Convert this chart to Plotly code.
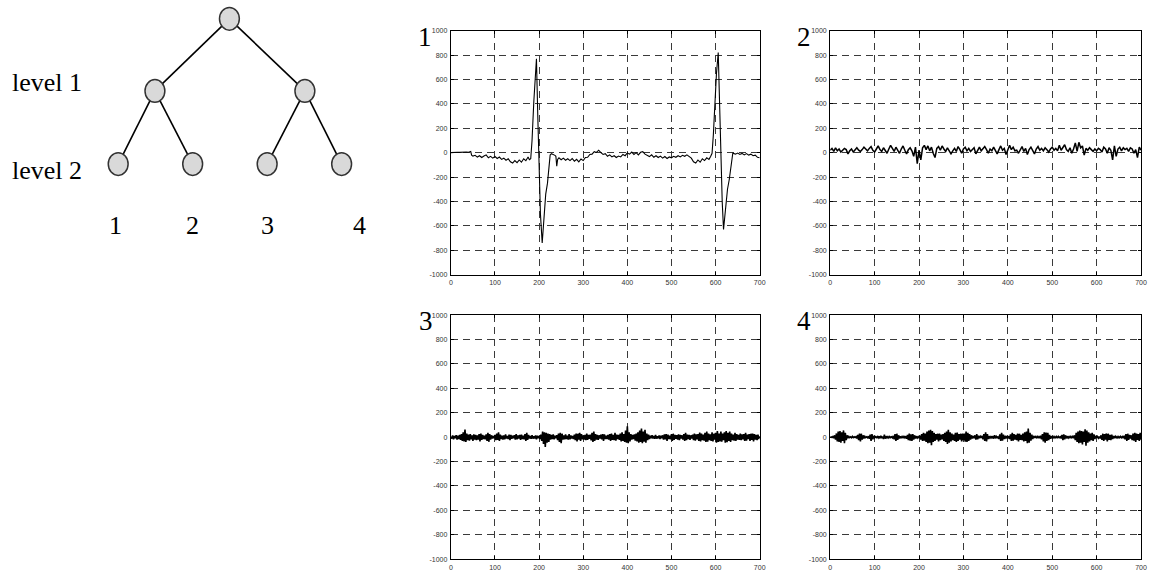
import plotly.graph_objects as go

# ---------------- data ----------------
sig1_x = [0, 5, 10, 15, 20, 25, 30, 35, 40, 45, 47, 50, 55, 60, 65, 70, 75, 80, 85, 90,
          95, 100, 105, 110, 115, 120, 125, 130, 135, 140, 145, 150, 155, 160, 165, 170,
          175, 178, 181, 184, 188, 191, 194, 197, 200, 203, 207, 209, 212, 215, 219, 222,
          225, 228, 232, 236, 238, 240, 242, 245, 250, 255, 260, 265, 270, 275, 280, 285,
          290, 295, 300, 305, 310, 315, 320, 325, 330, 335, 340, 345, 350, 355, 360, 365,
          370, 375, 380, 385, 390, 395, 400, 405, 410, 415, 420, 425, 430, 435, 440, 445,
          450, 455, 460, 465, 470, 475, 480, 485, 490, 495, 500, 505, 510, 515, 520, 525,
          530, 535, 540, 545, 550, 555, 560, 565, 570, 575, 580, 585, 589, 592, 595, 598,
          602, 606, 609, 612, 615, 618, 620, 623, 627, 631, 635, 639, 645, 650, 655, 660,
          665, 670, 675, 680, 685, 690, 695, 700]
sig1_y = [0, 3, 1, 4, 2, 5, 3, 6, 4, 10, -20, -28, -22, -36, -25, -40, -28, -18, -42, -30,
          -45, -32, -48, -36, -55, -45, -62, -50, -75, -85, -65, -82, -60, -78, -50, -66,
          -35, -58, -50, 100, 420, 650, 770, 300, -200, -500, -740, -620, -420, -340, -250, -100,
          -20, -8, -12, -22, -30, -110, -55, -42, -58, -45, -62, -50, -65, -48, -70, -55,
          -75, -52, -65, -40, -38, -15, -12, 8, 2, 20, 0, -15, -8, -30, -18, -35,
          -25, -40, -28, -35, -15, -25, -2, -12, 5, -15, 0, -18, 3, 8, -12, -20,
          -32, -18, -38, -25, -40, -28, -45, -32, -48, -35, -42, -30, -38, -25, -35, -22,
          -30, -18, -35, -45, -75, -85, -60, -78, -50, -65, -42, -55, -30, -5, 150, 420,
          650, 820, 400, -100, -400, -630, -560, -400, -300, -220, -120, -5, -12, -3, -15, -6,
          -18, -8, -20, -12, -25, -20, -38, -42]

sig2_x = list(range(0, 701, 4))
sig2_y = [20, 35, 10, 40, 15, 30, 5, 20, 35, 25,
          -10, 15, 30, 5, 25, 40, 20, 10, 25, 45,
          30, 15, 35, 50, 20, 5, 30, 55, 25, 10,
          40, 20, -5, 30, 60, 35, 10, 45, 25, -5,
          30, 55, 20, -10, 25, 40, 15, -30, 45, -90,
          20, -60, 40, 60, 25, 55, 15, 45, -5, -40,
          35, 50, 20, 55, 30, 10, 40, 20, -10, 15,
          35, 10, 50, 25, -5, 30, 45, 15, 35, 10,
          25, 40, -10, 20, 45, 15, 30, 50, 25, -5,
          30, 15, 45, 20, -10, 25, 55, 20, 35, -15,
          30, 60, 25, 45, 15, 20, -5, 30, 50, 10,
          35, -15, 25, 45, 10, -10, 30, 50, 20, 35,
          15, 40, 25, 5, 30, 45, 20, 35, 15, 60,
          20, 40, 65, 25, 10, 40, -5, 30, 80, 10,
          85, 40, 55, -20, 35, 20, 40, 25, 10, 30,
          15, 35, 25, 5, 45, 30, -5, 40, 20, -60,
          55, -30, 30, 45, 15, 40, 25, 35, 10, 40,
          30, -5, 25, -40, 45, 20]

sig34_x = list(range(0, 701, 2))
sig3_y = [5, -12, 14, -18, 10, -8, 16, -20, 12, -15,
          18, -22, 25, -30, 40, -35, 62, -40, 30, -25,
          20, -28, 24, -18, 15, -30, 22, -20, 18, -25,
          14, -20, 25, -35, 30, -22, 18, -15, 12, -18,
          22, -30, 35, -38, 25, -20, 15, -12, 10, -8,
          18, -25, 30, -22, 40, -30, 20, -15, 12, -20,
          15, -18, 22, -12, 10, -16, 20, -25, 18, -14,
          12, -10, 16, -20, 24, -18, 14, -12, 18, -22,
          20, -15, 12, -18, 25, -30, 35, -22, 18, -12,
          10, -14, 16, -12, 8, -10, 14, -18, 12, -8,
          10, -15, 20, -30, 45, -55, 40, -80, 35, -45,
          30, -40, 25, -20, 18, -15, 22, -18, 12, -10,
          16, -25, 30, -40, 35, -50, 28, -20, 15, -18,
          22, -15, 12, -20, 25, -18, 14, -12, 10, -15,
          20, -25, 30, -35, 28, -20, 35, -30, 25, -18,
          15, -20, 18, -25, 30, -22, 18, -14, 20, -26,
          35, -40, 45, -30, 25, -20, 18, -22, 15, -12,
          20, -18, 25, -30, 22, -15, 12, -16, 18, -20,
          25, -30, 30, -22, 18, -25, 35, -28, 20, -15,
          18, -22, 30, -35, 40, -30, 25, -40, 55, -45,
          90, -50, 40, -35, 25, -20, 18, -15, 22, -28,
          30, -35, 40, -45, 55, -40, 70, -50, 45, -38,
          60, -45, 30, -25, 20, -15, 12, -10, 15, -12,
          10, -14, 18, -12, 8, -10, 14, -16, 12, -9,
          15, -20, 22, -18, 25, -30, 20, -15, 12, -18,
          25, -30, 28, -22, 18, -14, 16, -20, 22, -25,
          18, -12, 15, -20, 25, -30, 35, -25, 20, -15,
          18, -22, 15, -12, 20, -25, 30, -28, 22, -18,
          25, -30, 38, -35, 30, -25, 20, -28, 35, -40,
          45, -38, 30, -25, 22, -30, 40, -35, 28, -20,
          35, -45, 50, -40, 30, -35, 45, -38, 30, -25,
          40, -45, 50, -42, 35, -30, 45, -40, 30, -25,
          20, -28, 35, -30, 25, -20, 18, -22, 30, -25,
          22, -18, 25, -30, 35, -28, 20, -15, 25, -30,
          28, -22, 30, -35, 25, -20, 18, -25, 20, -15,
          10]
sig4_y = [0, 2, -3, 5, -8, 15, -20, 30, -35, 45,
          -40, 50, -45, 40, -30, 55, -50, 35, -25, 15,
          -8, 5, -4, 3, -5, 6, -4, 3, -2, 4,
          -10, 18, -25, 30, -35, 28, -20, 15, -10, 6,
          -4, 3, -5, 8, -12, 20, -30, 25, -18, 10,
          -5, 4, -3, 5, -6, 8, -10, 12, -8, 5,
          -15, 20, -12, 8, -5, 4, -6, 5, -4, 3,
          -5, 10, -18, 25, -30, 28, -22, 15, -10, 6,
          -8, 5, -4, 6, -5, 8, -12, 18, -25, 30,
          -28, 22, -30, 25, -20, 15, -10, 8, -6, 4,
          -8, 12, -20, 25, -30, 35, -28, 30, -40, 45,
          -50, 55, -45, 60, -65, 50, -40, 35, -30, 25,
          -20, 28, -35, 30, -25, 20, -18, 25, -30, 35,
          -40, 45, -55, 60, -45, 40, -35, 30, -25, 20,
          -30, 35, -40, 38, -30, 25, -20, 28, -35, 30,
          -25, 30, -38, 45, -40, 35, -30, 25, -20, 15,
          -12, 10, -8, 15, -20, 25, -18, 12, -8, 6,
          -5, 10, -18, 25, -30, 40, -35, 25, -15, 8,
          -6, 4, -5, 8, -12, 15, -10, 6, -4, 5,
          -15, 22, -30, 35, -28, 20, -15, 10, -6, 4,
          -5, 8, -15, 22, -30, 35, -28, 25, -20, 18,
          -25, 30, -35, 28, -22, 18, -25, 30, -35, 40,
          -30, 45, -50, 70, -45, 35, -28, 20, -15, 10,
          -6, 5, -4, 6, -5, 4, -8, 12, -18, 25,
          -35, 40, -45, 38, -30, 35, -25, 18, -12, 8,
          -5, 4, -6, 5, -4, 6, -8, 5, -4, 3,
          -10, 18, -25, 22, -18, 15, -10, 8, -6, 4,
          -5, 6, -4, 5, -8, 15, -25, 35, -40, 45,
          -50, 55, -45, 50, -60, 45, -40, 65, -70, 55,
          -45, 40, -35, 30, -25, 35, -30, 22, -15, 10,
          -6, 5, -8, 4, -10, 15, -22, 28, -30, 25,
          -20, 30, -35, 28, -22, 18, -25, 20, -15, 10,
          -8, 6, -5, 4, -6, 5, -4, 6, -5, 4,
          -8, 12, -18, 25, -30, 28, -22, 18, -12, 15,
          -25, 30, -28, 35, -40, 30, -22, 25, -30, 35,
          -20]

panel_labels = ["1", "2", "3", "4"]
x_ticks = [0, 100, 200, 300, 400, 500, 600, 700]
y_ticks = [-1000, -800, -600, -400, -200, 0, 200, 400, 600, 800, 1000]

# tree diagram (in its own pixel-like axis)
tree_nodes_x = [229, 154, 305, 117, 192, 267, 342]
tree_nodes_y = [15, 88, 88, 162, 162, 162, 162]
tree_edges = [(0, 1), (0, 2), (1, 3), (1, 4), (2, 5), (2, 6)]
level_labels = ["level 1", "level 2"]
leaf_labels = ["1", "2", "3", "4"]
leaf_label_x = [114, 192, 267, 360]

# ---------------- figure ----------------
W, H = 1153, 574
fig = go.Figure()

series = [(sig1_x, sig1_y, 1.1), (sig2_x, sig2_y, 1.5), (sig34_x, sig3_y, 1.6), (sig34_x, sig4_y, 1.6)]
for i, (xs, ys, w) in enumerate(series):
    sfx = "" if i == 0 else str(i + 1)
    fig.add_trace(go.Scatter(x=xs, y=ys, mode="lines", line=dict(color="black", width=w),
                             xaxis="x" + sfx, yaxis="y" + sfx, showlegend=False, hoverinfo="skip"))

# tree edges
for a, b in tree_edges:
    fig.add_trace(go.Scatter(x=[tree_nodes_x[a], tree_nodes_x[b]], y=[tree_nodes_y[a], tree_nodes_y[b]],
                             mode="lines", line=dict(color="black", width=1.6),
                             xaxis="x5", yaxis="y5", showlegend=False, hoverinfo="skip"))

shapes = []
for nx, ny in zip(tree_nodes_x, tree_nodes_y):
    shapes.append(dict(type="circle", xref="x5", yref="y5", x0=nx - 10, x1=nx + 10,
                       y0=ny - 11.5, y1=ny + 11.5, fillcolor="#d9d9d9",
                       line=dict(color="#333333", width=1.5), layer="above"))

annotations = []
for lab, ly in zip(level_labels, [79, 169]):
    annotations.append(dict(text=lab, x=8, y=ly, xref="x5", yref="y5", showarrow=False,
                            xanchor="left", yanchor="middle",
                            font=dict(family="Liberation Serif", size=26, color="black")))
for lab, lx in zip(leaf_labels, leaf_label_x):
    annotations.append(dict(text=lab, x=lx, y=224, xref="x5", yref="y5", showarrow=False,
                            xanchor="center", yanchor="middle",
                            font=dict(family="Liberation Serif", size=26, color="black")))

x_domains = [[452 / W, 763 / W], [834 / W, 1147 / W]]
y_domains = [[1 - 274 / H, 1 - 27 / H], [1 - 562 / H, 1 - 315 / H]]
label_px = [(426, 33), (808, 33), (427, 321), (808, 321)]

layout = dict(width=W, height=H, margin=dict(l=0, r=0, t=0, b=0),
              paper_bgcolor="white", plot_bgcolor="white", showlegend=False)

axis_common = dict(showline=True, linecolor="black", linewidth=1.2, mirror="ticks",
                   ticks="inside", ticklen=3, tickcolor="black",
                   showgrid=True, gridcolor="#3a3a3a", gridwidth=1, griddash="7px,5px",
                   zeroline=False,
                   tickfont=dict(family="Liberation Sans", size=7, color="#333333"))

for i in range(4):
    sfx = "" if i == 0 else str(i + 1)
    col, row = i % 2, i // 2
    layout["xaxis" + sfx] = dict(axis_common, domain=x_domains[col], range=[0, 700],
                                 tickvals=x_ticks, ticktext=[str(v) for v in x_ticks],
                                 anchor="y" + sfx, ticklabelstandoff=1)
    layout["yaxis" + sfx] = dict(axis_common, domain=y_domains[row], range=[-1000, 1000],
                                 tickvals=y_ticks, ticktext=[str(v) for v in y_ticks],
                                 anchor="x" + sfx, ticklabelstandoff=1)
    px_, py_ = label_px[i]
    annotations.append(dict(text=panel_labels[i], x=px_ / W, y=1 - py_ / H, xref="paper", yref="paper",
                            showarrow=False, xanchor="center", yanchor="middle",
                            font=dict(family="Liberation Serif", size=27, color="black")))

layout["xaxis5"] = dict(domain=[0, 400 / W], range=[0, 400], visible=False, anchor="y5", fixedrange=True)
layout["yaxis5"] = dict(domain=[1 - 260 / H, 1], range=[260, 0], visible=False, anchor="x5", fixedrange=True)
layout["shapes"] = shapes
layout["annotations"] = annotations

fig.update_layout(**layout)
fig.write_html("out.html", config={"displayModeBar": False},
               post_script="document.body.style.margin='0';document.body.style.overflow='hidden';")
